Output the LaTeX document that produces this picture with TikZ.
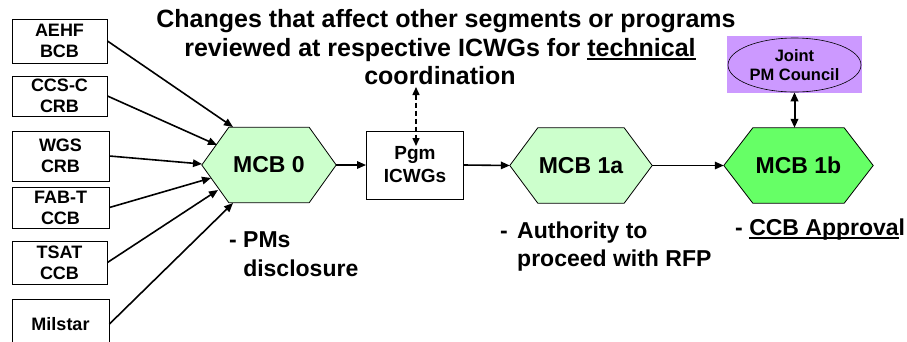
\documentclass[tikz,border=0pt]{standalone}
\usepackage{fontspec}
\setmainfont{Liberation Sans}
\usetikzlibrary{arrows.meta,backgrounds,shapes.geometric}
\definecolor{lgreen}{RGB}{204,255,204}
\definecolor{bgreen}{RGB}{102,255,102}
\definecolor{lpurple}{RGB}{204,153,255}
\newcommand{\myul}[1]{\setbox0\hbox{#1}\rlap{\rule[-3.5pt]{\wd0}{1.6pt}}\box0}
\newcommand{\drawhex}[3]{\filldraw[fill=#3, draw=black, line width=0.8pt] (#1.west) -- ([xshift=#2]#1.north west) -- ([xshift=-#2]#1.north east) -- (#1.east) -- ([xshift=-#2]#1.south east) -- ([xshift=#2]#1.south west) -- cycle;}
\begin{document}
\begin{tikzpicture}[x=1pt,y=-1pt,
  src/.style={draw, line width=0.9pt, minimum width=95pt, inner sep=0pt, align=center, font=\fontsize{18}{21}\selectfont\bfseries},
  hexnode/.style={minimum height=75pt, inner sep=0pt, font=\fontsize{23}{27}\selectfont\bfseries},
  conn/.style={line width=1.6pt, -{Triangle[length=9pt,width=7.5pt]}},
  title/.style={anchor=base, inner sep=0pt, font=\fontsize{25}{28}\selectfont\bfseries},
  lbl/.style={anchor=north west, inner sep=0pt, align=left, font=\fontsize{23}{28.5}\selectfont\bfseries}
]
\useasboundingbox (0,0) rectangle (907,341);

% source boxes
\node[src, minimum height=44pt] (aehf) at (59.5,41) {AEHF\\BCB};
\node[src, minimum height=40pt] (ccsc) at (59.5,96) {CCS-C\\CRB};
\node[src, minimum width=97pt, minimum height=50pt] (wgs) at (60.5,156) {WGS\\CRB};
\node[src, minimum width=97pt, minimum height=41pt] (fabt) at (60.5,207.5) {FAB-T\\CCB};
\node[src, minimum height=43pt] (tsat) at (59.5,262.5) {TSAT\\CCB};
\node[src, minimum width=97pt, minimum height=50pt] (milstar) at (60.5,324) {Milstar};

% hexagons
\node[hexnode, minimum width=134pt] (m0) at (269,165) {MCB 0};
\node[hexnode, minimum width=142pt] (m1a) at (581,165.5) {MCB 1a};
\node[hexnode, minimum width=149pt] (m1b) at (798.5,165.5) {MCB 1b};
\begin{scope}[on background layer]
\drawhex{m0}{27pt}{lgreen}
\drawhex{m1a}{28pt}{lgreen}
\drawhex{m1b}{29pt}{bgreen}
\end{scope}

% Pgm ICWGs
\node[draw, line width=0.9pt, minimum width=97pt, minimum height=68pt, inner sep=0pt, align=center, font=\fontsize{19}{23}\selectfont\bfseries] (pgm) at (415,165) {Pgm\\ICWGs};

% Joint PM Council
\node[fill=lpurple, minimum width=135pt, minimum height=57pt, inner sep=0pt] (jpmbg) at (794.5,64.5) {};
\node[draw, ellipse, line width=0.6pt, minimum width=133pt, minimum height=54pt, inner sep=0pt, align=center, font=\fontsize{16.5}{19}\selectfont\bfseries] (jpm) at (794.5,65) {Joint\\PM Council};

% title
\node[title] (t1) at (446,27) {Changes that affect other segments or programs};
\node[title] (t2) at (440,56) {reviewed at respective ICWGs for \myul{technical}};
\node[title] (t3) at (440,84) {coordination};

% bottom labels
\node[lbl] (l0) at (229,231.5) {- PMs\\\hphantom{- }disclosure};
\node[lbl] (l1a) at (500,221.5) {\makebox[17pt][l]{-}Authority to\\\hspace*{17pt}proceed with RFP};
\node[lbl] (l1b) at (735,218.5) {- \myul{CCB Approva}l};

% arrow end points on MCB 0
\coordinate (e1) at (233,127);
\coordinate (e2) at (217,145);
\coordinate (e3) at (202,164);
\coordinate (e4) at (211,178);
\coordinate (e5) at (218,190);
\coordinate (e6) at (233,203);
\draw[conn] (aehf.east) -- (e1);
\draw[conn] (ccsc.east) -- (e2);
\draw[conn] (wgs.east) -- (e3);
\draw[conn] (fabt.east) -- (e4);
\draw[conn] (tsat.east) -- (e5);
\draw[conn] (milstar.east) -- (e6);

\draw[conn] (m0.east) -- (pgm.west);
\draw[conn] (pgm.east) -- (m1a.west);
\draw[conn] (m1a.east) -- (m1b.west);
\draw[line width=2pt, {Triangle[length=9pt,width=7.5pt]}-{Triangle[length=9pt,width=7.5pt]}] (jpm.south) -- (jpm.south |- m1b.north);

% dotted double arrow
\coordinate (dtop) at (416,87);
\coordinate (dbot) at (416,146);
\draw[line width=1.5pt, dash pattern=on 5pt off 3pt, {Triangle[length=8pt,width=7pt]}-{Triangle[length=8pt,width=7pt]}] (dtop) -- (dbot);
\end{tikzpicture}
\end{document}
